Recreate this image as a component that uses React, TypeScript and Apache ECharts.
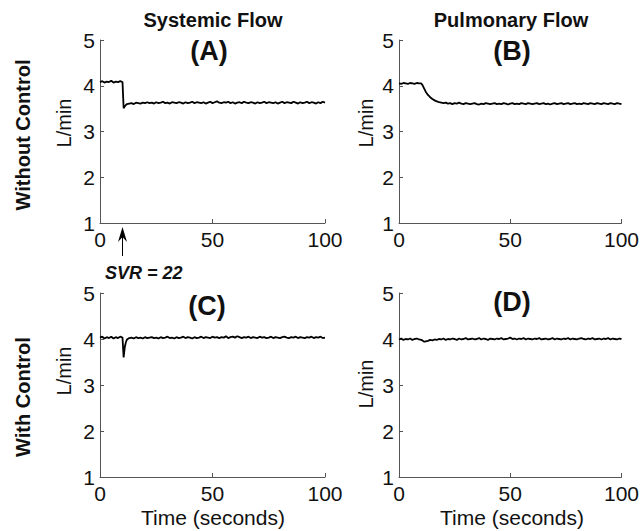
import React, { useEffect, useRef } from "react";
import * as echarts from "echarts";

const timeSec = [
  0, 1, 2, 3, 4, 5, 6, 7, 8, 9, 10, 10.5, 11, 11.5, 12,
  13, 14, 15, 16, 17, 18, 19, 20, 21, 22,
  23, 24, 25, 26, 27, 28, 29, 30, 31, 32,
  33, 34, 35, 36, 37, 38, 39, 40, 41, 42,
  43, 44, 45, 46, 47, 48, 49, 50, 51, 52,
  53, 54, 55, 56, 57, 58, 59, 60, 61, 62,
  63, 64, 65, 66, 67, 68, 69, 70, 71, 72,
  73, 74, 75, 76, 77, 78, 79, 80, 81, 82,
  83, 84, 85, 86, 87, 88, 89, 90, 91, 92,
  93, 94, 95, 96, 97, 98, 99, 100,
];

// (A) Systemic flow, without control
const systemicNoCtrl = [
  4.08, 4.10, 4.07, 4.09, 4.08, 4.11, 4.07, 4.09, 4.08, 4.10, 4.08,
  3.51, 3.55, 3.58, 3.60,
  3.61, 3.62, 3.60, 3.63, 3.62, 3.61, 3.63, 3.62, 3.64, 3.62,
  3.63, 3.61, 3.64, 3.62, 3.63, 3.65, 3.62, 3.63, 3.61, 3.64,
  3.63, 3.62, 3.64, 3.63, 3.61, 3.64, 3.62, 3.63, 3.65, 3.62,
  3.64, 3.63, 3.62, 3.64, 3.61, 3.63, 3.65, 3.62, 3.64, 3.66,
  3.63, 3.62, 3.64, 3.63, 3.65, 3.62, 3.64, 3.61, 3.63, 3.64,
  3.62, 3.65, 3.63, 3.62, 3.64, 3.63, 3.61, 3.64, 3.62, 3.63,
  3.65, 3.62, 3.64, 3.63, 3.62, 3.64, 3.61, 3.63, 3.65, 3.62,
  3.64, 3.63, 3.62, 3.65, 3.63, 3.61, 3.64, 3.62, 3.63, 3.65,
  3.62, 3.64, 3.63, 3.61, 3.64, 3.62, 3.65, 3.63,
];

// (B) Pulmonary flow, without control
const pulmonaryNoCtrl = [
  4.05, 4.04, 4.06, 4.05, 4.04, 4.06, 4.05, 4.04, 4.06, 4.05, 4.05,
  4.02, 3.97, 3.92, 3.87,
  3.80, 3.75, 3.71, 3.68, 3.66, 3.64, 3.63, 3.62, 3.63, 3.61,
  3.62, 3.60, 3.62, 3.61, 3.63, 3.61, 3.60, 3.62, 3.61, 3.60,
  3.61, 3.62, 3.60, 3.59, 3.61, 3.60, 3.62, 3.61, 3.60, 3.61,
  3.62, 3.60, 3.61, 3.60, 3.62, 3.61, 3.59, 3.61, 3.62, 3.60,
  3.61, 3.60, 3.62, 3.61, 3.60, 3.62, 3.61, 3.60, 3.61, 3.62,
  3.60, 3.61, 3.62, 3.60, 3.61, 3.59, 3.61, 3.62, 3.60, 3.61,
  3.62, 3.60, 3.61, 3.62, 3.60, 3.61, 3.62, 3.60, 3.61, 3.60,
  3.62, 3.61, 3.60, 3.62, 3.61, 3.60, 3.62, 3.61, 3.60, 3.62,
  3.61, 3.60, 3.62, 3.61, 3.60, 3.62, 3.61, 3.60,
];

// (C) Systemic flow, with control
const systemicCtrl = [
  4.03, 4.05, 4.01, 4.04, 4.02, 4.05, 4.01, 4.04, 4.02, 4.05, 4.03,
  3.60, 3.82, 3.93, 3.99,
  4.02, 4.03, 4.01, 4.04, 4.02, 4.03, 4.01, 4.04, 4.02, 4.03,
  4.04, 4.02, 4.03, 4.01, 4.04, 4.02, 4.03, 4.05, 4.02, 4.03,
  4.01, 4.04, 4.02, 4.03, 4.05, 4.02, 4.04, 4.03, 4.01, 4.04,
  4.02, 4.03, 4.05, 4.02, 4.04, 4.03, 4.02, 4.05, 4.03, 4.04,
  4.02, 4.04, 4.03, 4.06, 4.02, 4.04, 4.05, 4.03, 4.06, 4.04,
  4.02, 4.04, 4.03, 4.05, 4.02, 4.04, 4.03, 4.02, 4.05, 4.03,
  4.04, 4.02, 4.03, 4.05, 4.02, 4.04, 4.03, 4.02, 4.04, 4.05,
  4.03, 4.02, 4.04, 4.03, 4.05, 4.02, 4.04, 4.03, 4.02, 4.04,
  4.03, 4.05, 4.02, 4.04, 4.03, 4.05, 4.02, 4.03,
];

// (D) Pulmonary flow, with control
const pulmonaryCtrl = [
  3.99, 4.01, 3.98, 4.00, 3.99, 4.01, 3.98, 4.00, 4.01, 3.99, 3.98,
  3.97, 3.95, 3.94, 3.95,
  3.96, 3.98, 3.97, 3.99, 3.98, 4.00, 3.99, 4.01, 3.98, 4.00,
  3.99, 4.01, 4.00, 3.98, 4.01, 3.99, 4.00, 4.02, 3.99, 4.00,
  4.01, 3.99, 4.00, 4.02, 3.99, 4.01, 4.00, 3.98, 4.01, 4.00,
  3.99, 4.01, 4.00, 4.02, 3.99, 4.00, 4.01, 4.03, 4.00, 4.01,
  3.99, 4.01, 4.00, 4.02, 3.99, 4.01, 4.00, 3.99, 4.01, 4.00,
  4.02, 3.99, 4.00, 4.01, 3.99, 4.00, 4.02, 3.99, 4.01, 4.00,
  3.99, 4.01, 4.00, 4.02, 3.99, 4.01, 4.00, 3.99, 4.01, 4.02,
  4.00, 3.99, 4.01, 4.00, 4.02, 3.99, 4.00, 4.01, 3.99, 4.01,
  4.00, 4.02, 3.99, 4.01, 4.00, 3.99, 4.01, 4.00,
];

const columnTitles = ["Systemic Flow", "Pulmonary Flow"];
const panelLabels = ["(A)", "(B)", "(C)", "(D)"];
const rowLabels = ["Without Control", "With Control"];
const yAxisLabel = "L/min";
const xAxisLabel = "Time (seconds)";
const annotation = "SVR = 22";

const FONT = "'Liberation Sans', Arial, Helvetica, sans-serif";

export default function App() {
  const ref = useRef<HTMLDivElement>(null);

  useEffect(() => {
    if (!ref.current) return;
    const chart = echarts.init(ref.current, undefined, { renderer: "svg" });

    const grids = [
      { left: 100, top: 40, width: 225, height: 183 },
      { left: 399, top: 40, width: 226, height: 183 },
      { left: 100, top: 293, width: 225, height: 184 },
      { left: 399, top: 293, width: 226, height: 184 },
    ];
    const seriesVals = [systemicNoCtrl, pulmonaryNoCtrl, systemicCtrl, pulmonaryCtrl];

    const axisLine = { show: true, onZero: false, lineStyle: { color: "#555", width: 1 } };
    const axisTick = { show: true, inside: true, length: 4, lineStyle: { color: "#555" } };
    const axisLabelStyle = { color: "#111", fontSize: 21, fontFamily: FONT };

    const center = {
      align: "center",
      verticalAlign: "middle",
      textAlign: "center",
      textVerticalAlign: "middle",
    };

    const option: any = {
      animation: false,
      backgroundColor: "#fff",
      grid: grids.map((g) => ({ ...g, containLabel: false })),
      xAxis: grids.map((_, i) => ({
        type: "value",
        gridIndex: i,
        min: 0,
        max: 100,
        interval: 50,
        axisLine,
        axisTick,
        splitLine: { show: false },
        axisLabel: { ...axisLabelStyle, margin: 6 },
      })),
      yAxis: grids.map((_, i) => ({
        type: "value",
        gridIndex: i,
        min: 1,
        max: 5,
        interval: 1,
        axisLine,
        axisTick,
        splitLine: { show: false },
        axisLabel: { ...axisLabelStyle, margin: 5 },
      })),
      series: seriesVals.map((vals, i) => ({
        type: "line",
        xAxisIndex: i,
        yAxisIndex: i,
        data: timeSec.map((t, k) => [t, vals[k]]),
        showSymbol: false,
        symbol: "none",
        lineStyle: { color: "#000", width: 1.8 },
        silent: true,
      })),
      graphic: [
        ...columnTitles.map((txt, i) => ({
          type: "text",
          x: i === 0 ? 213 : 511,
          y: 20,
          style: { text: txt, font: `bold 20px ${FONT}`, fill: "#111", ...center },
        })),
        ...panelLabels.map((txt, i) => ({
          type: "text",
          x: [209, 512, 207, 512][i],
          y: [51, 51, 306, 302][i],
          style: { text: txt, font: `bold 27px ${FONT}`, fill: "#111", ...center },
        })),
        ...rowLabels.map((txt, i) => ({
          type: "text",
          x: 23,
          y: i === 0 ? 135 : 397,
          rotation: Math.PI / 2,
          style: { text: txt, font: `bold 20px ${FONT}`, fill: "#111", ...center },
        })),
        ...[
          [64, 123],
          [366, 123],
          [64, 371],
          [366, 384],
        ].map(([x, y]) => ({
          type: "text",
          x,
          y,
          rotation: Math.PI / 2,
          style: { text: yAxisLabel, font: `20px ${FONT}`, fill: "#111", ...center },
        })),
        ...[213, 512].map((x) => ({
          type: "text",
          x,
          y: 517,
          style: { text: xAxisLabel, font: `21px ${FONT}`, fill: "#111", ...center },
        })),
        {
          type: "line",
          shape: { x1: 122.5, y1: 256, x2: 122.5, y2: 236 },
          style: { stroke: "#000", lineWidth: 1 },
        },
        {
          type: "polygon",
          shape: {
            points: [
              [122.5, 227],
              [118, 242],
              [122.5, 237],
              [127, 242],
            ],
          },
          style: { fill: "#000" },
        },
        {
          type: "text",
          x: 105,
          y: 273,
          style: {
            text: annotation,
            font: `italic bold 18px ${FONT}`,
            fill: "#111",
            align: "left",
            verticalAlign: "middle",
            textAlign: "left",
            textVerticalAlign: "middle",
          },
        },
      ],
    };

    chart.setOption(option);
    return () => chart.dispose();
  }, []);

  return (
    <div
      ref={ref}
      style={{ position: "absolute", left: 0, top: 0, width: 642, height: 531 }}
    />
  );
}
